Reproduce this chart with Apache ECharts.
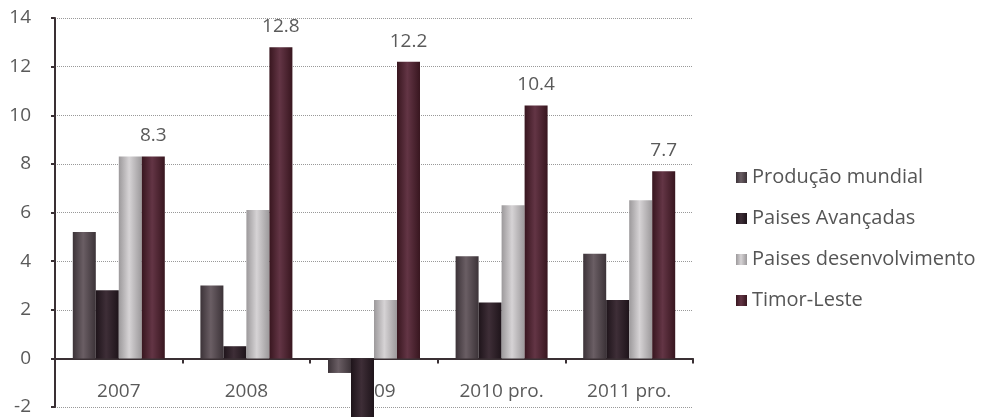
<!DOCTYPE html>
<html>
<head>
<meta charset="utf-8">
<script src="https://cdn.jsdelivr.net/npm/echarts@6/dist/echarts.min.js"></script>
<style>
  html, body { margin: 0; padding: 0; background: #fff; }
  #main { width: 981px; height: 417px; }
</style>
</head>
<body>
<div id="main"></div>
<script>
// data
const categories = ['2007', '2008', '2009', '2010 pro.', '2011 pro.'];
const producaoMundial = [5.2, 3.0, -0.6, 4.2, 4.3];
const paisesAvancadas = [2.8, 0.5, -3.4, 2.3, 2.4];
const paisesDesenvolvimento = [8.3, 6.1, 2.4, 6.3, 6.5];
const timorLeste = [8.3, 12.8, 12.2, 10.4, 7.7];

function shade(edge, mid) {
  return new echarts.graphic.LinearGradient(0, 0, 1, 0, [
    { offset: 0, color: edge },
    { offset: 0.45, color: mid },
    { offset: 1, color: edge }
  ]);
}

const txt = '#5a5a5a';
const font = 'Open Sans';

function bar(name, data, edge, mid, withLabel) {
  return {
    name: name,
    type: 'bar',
    data: data,
    clip: false,
    z: 10,
    barWidth: 23,
    barGap: '0%',
    itemStyle: { color: shade(edge, mid) },
    label: {
      show: withLabel,
      position: 'top',
      distance: 11,
      color: txt,
      fontFamily: font,
      fontSize: 19
    }
  };
}

const chart = echarts.init(document.getElementById('main'));
chart.setOption({
  animation: false,
  backgroundColor: '#fff',
  color: ['#4d4349', '#2c1f27', '#b9b6b8', '#4a2432'],
  grid: { left: 55, right: 288, top: 18, bottom: 10, containLabel: false, outerBoundsMode: 'none' },
  legend: {
    orient: 'vertical',
    left: 731,
    top: 161,
    itemWidth: 11,
    itemHeight: 11,
    itemGap: 18,
    icon: 'rect',
    textStyle: { color: '#555', fontFamily: font, fontSize: 20, lineHeight: 23 },
    data: ['Produção mundial', 'Paises Avançadas', 'Paises desenvolvimento', 'Timor-Leste']
  },
  xAxis: {
    type: 'category',
    data: categories,
    z: 0,
    axisLine: { onZero: true, lineStyle: { color: '#3a3034', width: 2 } },
    axisTick: { show: true, length: 5, lineStyle: { color: '#3a3034', width: 2 } },
    axisLabel: { margin: -25, color: txt, fontFamily: font, fontSize: 19 }
  },
  yAxis: {
    type: 'value',
    min: -2,
    max: 14,
    interval: 2,
    axisLine: { show: true, lineStyle: { color: '#3a3034', width: 2 } },
    axisTick: { show: true, length: 4, lineStyle: { color: '#3a3034', width: 2 } },
    axisLabel: { margin: 24, color: txt, fontFamily: font, fontSize: 19 },
    splitLine: { lineStyle: { color: '#999', type: 'dotted', width: 1 } }
  },
  series: [
    bar('Produção mundial', producaoMundial, '#3c3338', '#6a5e64', false),
    bar('Paises Avançadas', paisesAvancadas, '#1e141a', '#3e2e37', false),
    bar('Paises desenvolvimento', paisesDesenvolvimento, '#9c999b', '#d6d3d5', false),
    bar('Timor-Leste', timorLeste, '#38161f', '#633545', true)
  ]
});
</script>
</body>
</html>
